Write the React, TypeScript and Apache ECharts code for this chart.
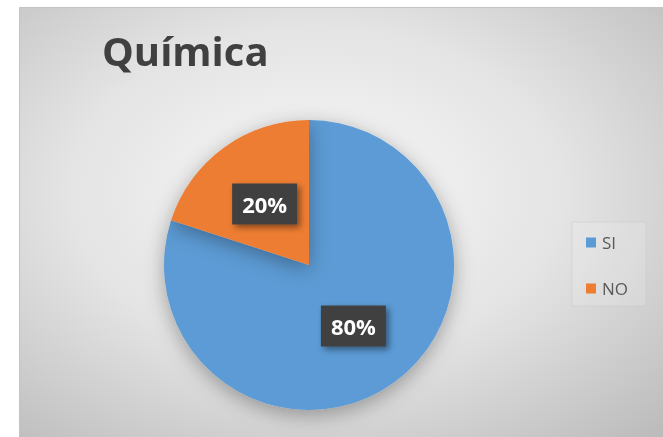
import React, { useEffect, useRef } from "react";
import * as echarts from "echarts";

const categories = ["SI", "NO"];
const values = [80, 20];
const colors = ["#5b9bd5", "#ed7d31"];
const titleText = "Química";

export default function App() {
  const ref = useRef<HTMLDivElement>(null);
  useEffect(() => {
    if (!ref.current) return;
    const chart = echarts.init(ref.current, null, { renderer: "svg" });
    const data = categories.map((c, i) => ({
      name: c,
      value: values[i],
      itemStyle: { color: colors[i] },
    }));
    chart.setOption({
      animation: false,
      graphic: [
        {
          type: "rect",
          z: -10,
          silent: true,
          shape: { x: 19.5, y: 7.5, width: 660, height: 440 },
          style: {
            fill: {
              type: "radial",
              x: 0.45,
              y: 0.42,
              r: 0.75,
              colorStops: [
                { offset: 0, color: "#f8f8f8" },
                { offset: 0.5, color: "#e4e4e4" },
                { offset: 1, color: "#bcbcbc" },
              ],
            },
            stroke: "#c4c4c4",
            lineWidth: 1,
          },
        },
        {
          type: "rect",
          z: -5,
          silent: true,
          shape: { x: 572, y: 222, width: 74, height: 84 },
          style: { fill: "rgba(255,255,255,0.15)", stroke: "rgba(200,200,200,0.5)", lineWidth: 1 },
        },
      ],
      title: {
        text: titleText,
        left: 97,
        top: 25,
        textStyle: {
          fontFamily: "Open Sans",
          fontWeight: "bold",
          fontSize: 40,
          color: "#404040",
        },
      },
      legend: {
        orient: "vertical",
        left: 581,
        top: 229,
        itemWidth: 10,
        itemHeight: 10,
        itemGap: 29,
        icon: "rect",
        textStyle: { fontFamily: "Open Sans", fontSize: 17, color: "#595959", padding: [0, 0, 0, 1] },
        data: categories,
      },
      series: [
        {
          type: "pie",
          center: [309, 265],
          radius: [0, 145],
          startAngle: 90,
          clockwise: true,
          data,
          itemStyle: {
            shadowBlur: 20,
            shadowOffsetY: 5,
            shadowColor: "rgba(0,0,0,0.32)",
          },
          label: {
            show: true,
            position: "inside",
            formatter: "{d}%",
            fontFamily: "Open Sans",
            fontWeight: "bold",
            fontSize: 22,
            lineHeight: 24,
            color: "#ffffff",
            backgroundColor: "#404040",
            padding: [9, 10, 8, 10],
            shadowColor: "rgba(0,0,0,0.45)",
            shadowBlur: 6,
            shadowOffsetX: 3,
            shadowOffsetY: 3,
          },
          labelLine: { show: false },
          emphasis: { disabled: true },
        },
      ],
    });
    return () => chart.dispose();
  }, []);
  return (
    <div
      ref={ref}
      style={{ position: "fixed", left: 0, top: 0, width: 663, height: 437 }}
    />
  );
}
